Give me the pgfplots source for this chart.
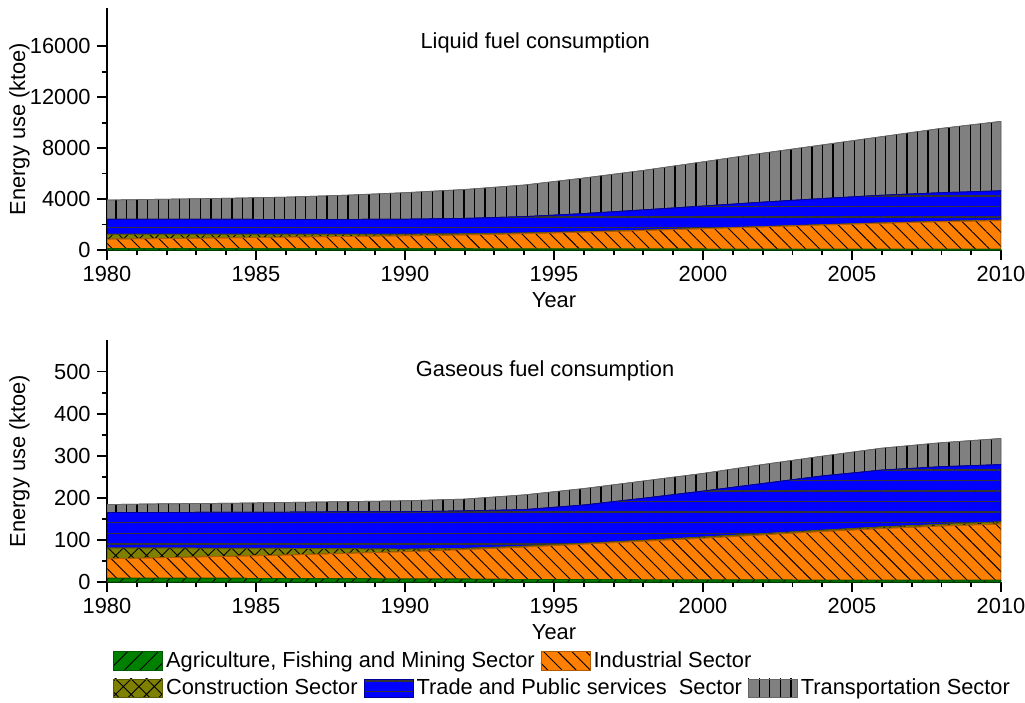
\documentclass[border=0pt]{standalone}
\usepackage{pgfplots}
\pgfplotsset{compat=1.18}
\usepackage{pgfplotstable}
\usepackage{fontspec}
\setmainfont{Liberation Sans}
\usetikzlibrary{patterns.meta}

\definecolor{cagri}{RGB}{0,128,0}
\definecolor{cind}{RGB}{255,128,0}
\definecolor{ccons}{RGB}{128,128,0}
\definecolor{ctrade}{RGB}{0,0,255}
\definecolor{ctrans}{RGB}{128,128,128}

\tikzset{
 sagri/.style={fill=cagri, draw=cagri!70!black, line width=0.4pt, postaction={pattern={Lines[angle=45,distance=6pt,line width=0.5pt]}, pattern color=black}},
 sind/.style={fill=cind, draw=cind!70!black, line width=0.4pt, postaction={pattern={Lines[angle=-45,distance=5.5pt,line width=0.5pt]}, pattern color=black}},
 scons/.style={fill=ccons, draw=ccons!70!black, line width=0.4pt, postaction={pattern={Hatch[angle=45,distance=6pt,line width=0.5pt]}, pattern color=black}},
 strade/.style={fill=ctrade, draw=ctrade!60!black, line width=0.4pt, postaction={pattern={Lines[angle=0,distance=5.8pt,line width=0.8pt]}, pattern color=black!80}},
 strans/.style={fill=ctrans, draw=ctrans!80!black, line width=0.4pt, postaction={pattern={Lines[angle=90,distance=5.8pt,line width=0.7pt]}, pattern color=black}},
}

\pgfplotstableread{
year agri ind cons trade trans
1980 120 730 380 1190 1500
1982 115 785 330 1190 1570
1984 110 840 280 1180 1650
1986 105 905 230 1160 1750
1988 100 960 180 1160 1900
1990 95 1015 130 1180 2080
1992 90 1090 90 1210 2270
1994 85 1195 60 1280 2480
1996 80 1320 40 1420 2790
1998 75 1455 30 1590 3100
2000 70 1600 30 1750 3470
2002 65 1745 30 1920 3840
2004 60 1900 30 2050 4210
2006 60 2040 30 2170 4600
2008 60 2160 30 2250 5050
2010 60 2250 40 2300 5450
}\liquid

\pgfplotstableread{
year agri ind cons trade trans
1980 9 46 26 84 19
1982 9 49 23 84 21
1984 9 52 19 86 21
1986 8 56 16 86 23
1988 8 60 11 88 24
1990 7 65 6 89 26
1992 7 70 3 89 28
1994 6 77 2 87 35
1996 6 84 2 91 39
1998 5 92 2 100 41
2000 5 99 3 109 42
2002 5 107 3 119 45
2004 4 116 3 129 47
2006 4 123 4 135 52
2008 4 129 4 137 57
2010 4 134 5 136 62
}\gaseous

\pgfplotsset{
 myax/.style={
  scale only axis, width=491.7pt, height=133.1pt, anchor=south west,
  xmin=1980, xmax=2010, ymin=0, enlargelimits=false,
  axis x line*=bottom, axis y line*=left,
  axis line style={line width=1pt,-},
  xtick={1980,1985,...,2010}, minor x tick num=4,
  tick align=outside, major tick length=5.5pt, minor tick length=3pt,
  every tick/.style={black, line width=1pt},
  /pgf/number format/1000 sep={}, /pgf/number format/assume math mode=true,
  scaled y ticks=false, scaled x ticks=false,
  xlabel={Year}, ylabel={Energy use (ktoe)},
  ylabel style={at={(axis description cs:-0.098,0.5)}, anchor=center},
  xlabel style={yshift=1pt},
  stack plots=y,
 },
 legax/.style={
  scale only axis, width=491.7pt, height=133.1pt, anchor=south west,
  hide axis, xmin=0, xmax=1, ymin=0, ymax=1,
  legend image code/.code={\path[##1] (0pt,-5pt) rectangle (27pt,5pt);},
  legend style={draw=none, fill=none, inner sep=0pt, outer sep=0pt, anchor=west,
    nodes={inner sep=0pt},
    /tikz/every odd column/.append style={column sep=1.8pt},
    /tikz/every even column/.append style={column sep=3.2pt}},
 },
}

\begin{document}
\begin{tikzpicture}[font=\fontsize{12}{14}\selectfont]
\useasboundingbox (0,0) rectangle (563.75pt,386.1pt);

% Top: liquid
\begin{axis}[myax, at={(58.85pt,248.6pt)}, ymax=19000,
  ytick={0,4000,...,16000}, minor y tick num=1]
\addplot[sagri] table[x=year,y=agri] {\liquid} \closedcycle;
\addplot[sind] table[x=year,y=ind] {\liquid} \closedcycle;
\addplot[scons] table[x=year,y=cons] {\liquid} \closedcycle;
\addplot[strade] table[x=year,y=trade] {\liquid} \closedcycle;
\addplot[strans] table[x=year,y=trans] {\liquid} \closedcycle;
\node at (axis description cs:0.479,0.855) {Liquid fuel consumption};
\end{axis}

% Bottom: gaseous
\begin{axis}[myax, at={(58.85pt,66pt)}, ymax=575,
  ytick={0,100,...,500}, minor y tick num=1]
\addplot[sagri] table[x=year,y=agri] {\gaseous} \closedcycle;
\addplot[sind] table[x=year,y=ind] {\gaseous} \closedcycle;
\addplot[scons] table[x=year,y=cons] {\gaseous} \closedcycle;
\addplot[strade] table[x=year,y=trade] {\gaseous} \closedcycle;
\addplot[strans] table[x=year,y=trans] {\gaseous} \closedcycle;
\node at (axis description cs:0.49,0.872) {Gaseous fuel consumption};
\end{axis}

% Legend row 1
\begin{axis}[legax, at={(58.85pt,66pt)}, legend columns=2,
  legend style={at={(axis description cs:0.0067,-0.326)}}]
\addlegendimage{sagri}\addlegendentry{Agriculture, Fishing and Mining Sector}
\addlegendimage{sind}\addlegendentry{Industrial Sector}
\end{axis}

% Legend row 2
\begin{axis}[legax, at={(58.85pt,66pt)}, legend columns=3,
  legend style={at={(axis description cs:0.0067,-0.438)}}]
\addlegendimage{scons}\addlegendentry{Construction Sector}
\addlegendimage{strade}\addlegendentry{Trade and Public services\ \ Sector}
\addlegendimage{strans}\addlegendentry{Transportation Sector}
\end{axis}
\end{tikzpicture}
\end{document}
